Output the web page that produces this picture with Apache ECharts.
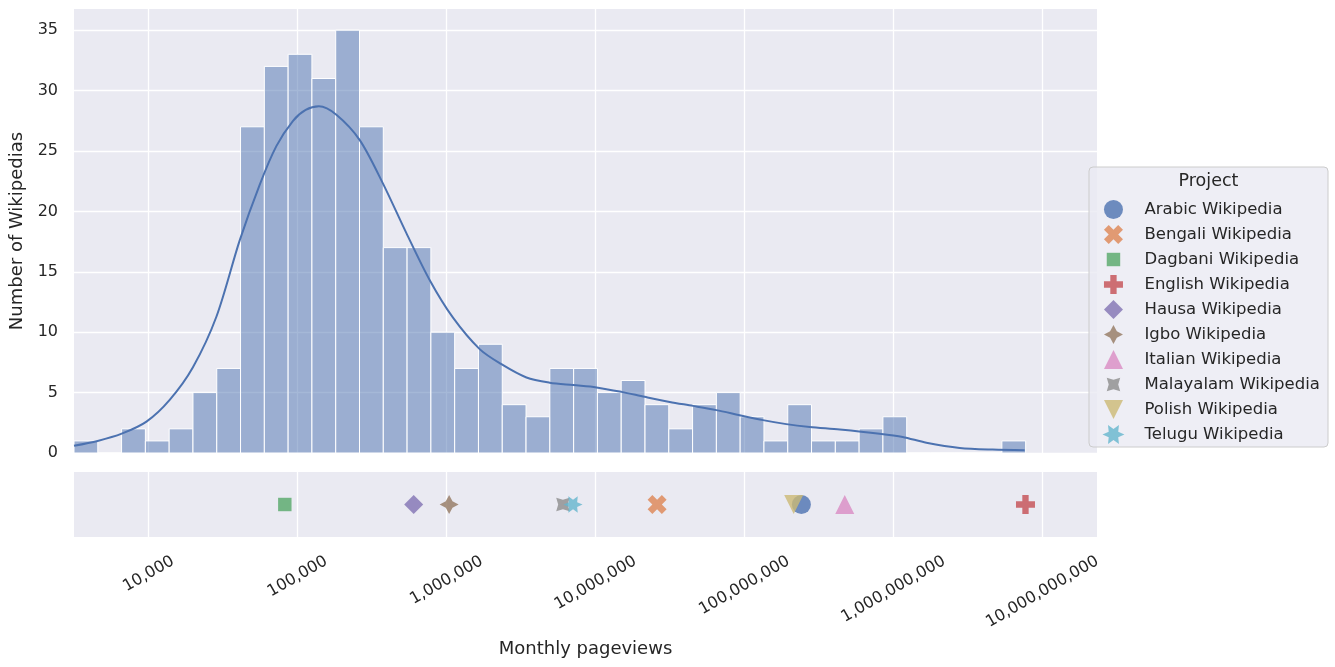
<!DOCTYPE html>
<html>
<head>
<meta charset="utf-8">
<title>Monthly pageviews of Wikipedias</title>
<script src="https://cdn.jsdelivr.net/npm/echarts@6/dist/echarts.min.js"></script>
<style>
  html, body { margin: 0; padding: 0; background: #ffffff; }
  #chart { width: 1335px; height: 667px; }
</style>
</head>
<body>
<div id="chart"></div>
<script>
// ---- Histogram: bins are equal-width in log10(pageviews) ----
const binStartLog = 3.4985;
const binWidthLog = 0.15973;
const binCounts = [1, 0, 2, 1, 2, 5, 7, 27, 32, 33, 31, 35, 27, 17, 17, 10, 7, 9, 4, 3,
                   7, 7, 5, 6, 4, 2, 4, 5, 3, 1, 4, 1, 1, 2, 3, 0, 0, 0, 0, 1];

// ---- Kernel density estimate, scaled to counts ----
const kdeLogX = [3.4985, 3.657, 3.819, 3.985, 4.141, 4.297, 4.455, 4.611, 4.745, 4.857,
                 4.969, 5.054, 5.143, 5.260, 5.417, 5.573, 5.730, 5.887, 6.043, 6.222,
                 6.368, 6.536, 6.692, 6.849, 7.006, 7.174, 7.330, 7.498, 7.654, 7.811,
                 7.967, 8.124, 8.281, 8.438, 8.640, 8.907, 9.062, 9.221, 9.445, 9.666, 9.881];
const kdeCount = [0.6, 1.0, 1.6, 2.6, 4.4, 7.1, 11.3, 17.6, 22.2, 25.4,
                  27.5, 28.4, 28.7, 28.0, 25.9, 22.3, 18.2, 14.3, 11.2, 8.6,
                  7.35, 6.25, 5.82, 5.62, 5.43, 5.06, 4.65, 4.23, 3.9, 3.55,
                  3.13, 2.72, 2.39, 2.16, 1.95, 1.6, 1.33, 0.85, 0.42, 0.28, 0.23];

// ---- Highlighted projects (monthly pageviews) ----
const projects = ['Arabic Wikipedia', 'Bengali Wikipedia', 'Dagbani Wikipedia', 'English Wikipedia',
                  'Hausa Wikipedia', 'Igbo Wikipedia', 'Italian Wikipedia', 'Malayalam Wikipedia',
                  'Polish Wikipedia', 'Telugu Wikipedia'];
const projectViews = [241000000, 25900000, 82000, 7700000000, 601000, 1040000,
                      471000000, 6040000, 214000000, 7060000];

// ---- Axis ticks ----
const xTickValues = [1e4, 1e5, 1e6, 1e7, 1e8, 1e9, 1e10];
const yTickValues = [0, 5, 10, 15, 20, 25, 30, 35];

// ---- Styling ----
const palette = ['#4c72b0', '#dd8452', '#55a868', '#c44e52', '#8172b3',
                 '#937860', '#da8bc3', '#8c8c8c', '#ccb974', '#64b5cd'];
// Marker outlines; zero-length segments pad the bounding box so that
// smaller shapes keep their relative size when fitted to the symbol box.
const markerShapes = [
  'circle',
  'path://M2,-4 L4,-2 L2,0 L4,2 L2,4 L0,2 L-2,4 L-4,2 L-2,0 L-4,-2 L-2,-4 L0,-2 Z',
  'path://M-70.7,-70.7 L-70.7,-70.7 M70.7,70.7 L70.7,70.7 M-50,-50 L50,-50 L50,50 L-50,50 Z',
  'path://M-1,-3 L1,-3 L1,-1 L3,-1 L3,1 L1,1 L1,3 L-1,3 L-1,1 L-3,1 L-3,-1 L-1,-1 Z',
  'path://M0,-50 L50,0 L0,50 L-50,0 Z',
  'path://M0,-100 L35.4,-35.4 L100,0 L35.4,35.4 L0,100 L-35.4,35.4 L-100,0 L-35.4,-35.4 Z',
  'path://M0,-50 L50,50 L-50,50 Z',
  'path://M-100,-100 L-100,-100 M100,100 L100,100 M70.7,-70.7 L0,-50 L-70.7,-70.7 L-50,0 L-70.7,70.7 L0,50 L70.7,70.7 L50,0 Z',
  'path://M-50,-50 L50,-50 L0,50 Z',
  'path://M100,0 L43.3,-25 L50,-86.6 L0,-50 L-50,-86.6 L-43.3,-25 L-100,0 L-43.3,25 L-50,86.6 L0,50 L50,86.6 L43.3,25 Z'
];

const FONT = 'DejaVu Sans';
const INK = '#262626';
const BG = '#eaeaf2';
const xMinLog = 3.4985;
const xMaxLog = 10.3666;

const xTickLogs = xTickValues.map(v => Math.log10(v));
const fmtViews = v => Math.round(v).toLocaleString('en-US');

// Rotated tick labels: each label's box is hung from the axis like a
// rotated text whose bounding box top sits at a fixed distance.
const tickFont = 16;
const measureCtx = document.createElement('canvas').getContext('2d');
measureCtx.font = tickFont + 'px "' + FONT + '"';
const tickRich = {};
xTickValues.forEach((v, i) => {
  const d = measureCtx.measureText(fmtViews(v)).width / 4;
  tickRich['t' + i] = {
    fontSize: tickFont, fontFamily: FONT, color: INK,
    padding: [d * 1.732, d, 0, 0]
  };
});

const histData = binCounts.map((c, i) => {
  const x0 = binStartLog + i * binWidthLog;
  return [x0, x0 + binWidthLog, c];
});
const kdeData = kdeLogX.map((x, i) => [x, kdeCount[i]]);

const gridLine = { show: true, lineStyle: { color: '#ffffff', width: 1.3 } };

const scatterSeries = projects.map((name, i) => ({
  name: name,
  type: 'scatter',
  xAxisIndex: 1,
  yAxisIndex: 1,
  symbol: markerShapes[i],
  symbolSize: 19,
  symbolKeepAspect: true,
  itemStyle: { color: palette[i], opacity: 0.8 },
  z: 5,
  data: [[Math.log10(projectViews[i]), 0]]
}));

const chart = echarts.init(document.getElementById('chart'), null, { renderer: 'canvas' });
chart.setOption({
  animation: false,
  backgroundColor: '#ffffff',
  textStyle: { fontFamily: FONT, color: INK },
  grid: [
    { left: 74, top: 9, width: 1023, height: 444, show: true, backgroundColor: BG,
      borderWidth: 0, containLabel: false, outerBoundsMode: 'none' },
    { left: 74, top: 472, width: 1023, height: 65, show: true, backgroundColor: BG,
      borderWidth: 0, containLabel: false, outerBoundsMode: 'none' }
  ],
  xAxis: [
    {
      type: 'value', gridIndex: 0, min: xMinLog, max: xMaxLog,
      axisLine: { show: false },
      axisTick: { show: false, customValues: xTickLogs },
      axisLabel: { show: false },
      splitLine: gridLine
    },
    {
      type: 'value', gridIndex: 1, min: xMinLog, max: xMaxLog,
      axisLine: { show: false },
      axisTick: { show: false, customValues: xTickLogs },
      axisLabel: {
        show: true,
        customValues: xTickLogs,
        rotate: 30,
        align: 'center',
        verticalAlign: 'middle',
        margin: 23,
        rich: tickRich,
        formatter: val => {
          const i = xTickLogs.findIndex(t => Math.abs(t - val) < 1e-6);
          return '{t' + i + '|' + fmtViews(xTickValues[i]) + '}';
        }
      },
      splitLine: gridLine,
      name: 'Monthly pageviews',
      nameLocation: 'middle',
      nameGap: 103,
      nameTextStyle: { fontSize: 18, fontFamily: FONT, color: INK }
    }
  ],
  yAxis: [
    {
      type: 'value', gridIndex: 0, min: 0, max: 36.75,
      axisLine: { show: false },
      axisTick: { show: false, customValues: yTickValues },
      axisLabel: { show: true, customValues: yTickValues, margin: 16,
                   fontSize: tickFont, fontFamily: FONT, color: INK },
      splitLine: gridLine,
      name: 'Number of Wikipedias',
      nameLocation: 'middle',
      nameGap: 45,
      nameTextStyle: { fontSize: 18, fontFamily: FONT, color: INK }
    },
    {
      type: 'value', gridIndex: 1, min: -1, max: 1, show: false
    }
  ],
  legend: {
    data: projects,
    orient: 'vertical',
    left: 1102.5,
    top: 200,
    padding: 0,
    itemWidth: 52,
    itemHeight: 19,
    itemGap: 6,
    selectedMode: false,
    z: 20,
    textStyle: { fontSize: 16.5, fontFamily: FONT, color: INK }
  },
  graphic: [
    {
      type: 'rect', z: 10,
      shape: { x: 1089, y: 167, width: 239, height: 280, r: 4 },
      style: { fill: 'rgba(234,234,242,0.8)', stroke: '#cccccc', lineWidth: 1 }
    },
    {
      type: 'text', z: 20, x: 1208.5, y: 181,
      style: { text: 'Project', align: 'center', verticalAlign: 'middle',
               font: '17.5px "' + FONT + '"', fill: INK }
    }
  ],
  series: [
    {
      name: 'Histogram',
      type: 'custom',
      xAxisIndex: 0,
      yAxisIndex: 0,
      encode: { x: [0, 1], y: 2 },
      data: histData,
      z: 2,
      renderItem: (params, api) => {
        const p0 = api.coord([api.value(0), api.value(2)]);
        const p1 = api.coord([api.value(1), 0]);
        return {
          type: 'rect',
          shape: { x: p0[0], y: p0[1], width: p1[0] - p0[0], height: p1[1] - p0[1] },
          style: { fill: 'rgba(76,114,176,0.5)', stroke: '#ffffff', lineWidth: 1 }
        };
      }
    },
    {
      name: 'KDE',
      type: 'line',
      xAxisIndex: 0,
      yAxisIndex: 0,
      data: kdeData,
      smooth: 0.3,
      showSymbol: false,
      symbol: 'none',
      z: 3,
      lineStyle: { color: '#4c72b0', width: 2 }
    }
  ].concat(scatterSeries)
});
</script>
</body>
</html>
